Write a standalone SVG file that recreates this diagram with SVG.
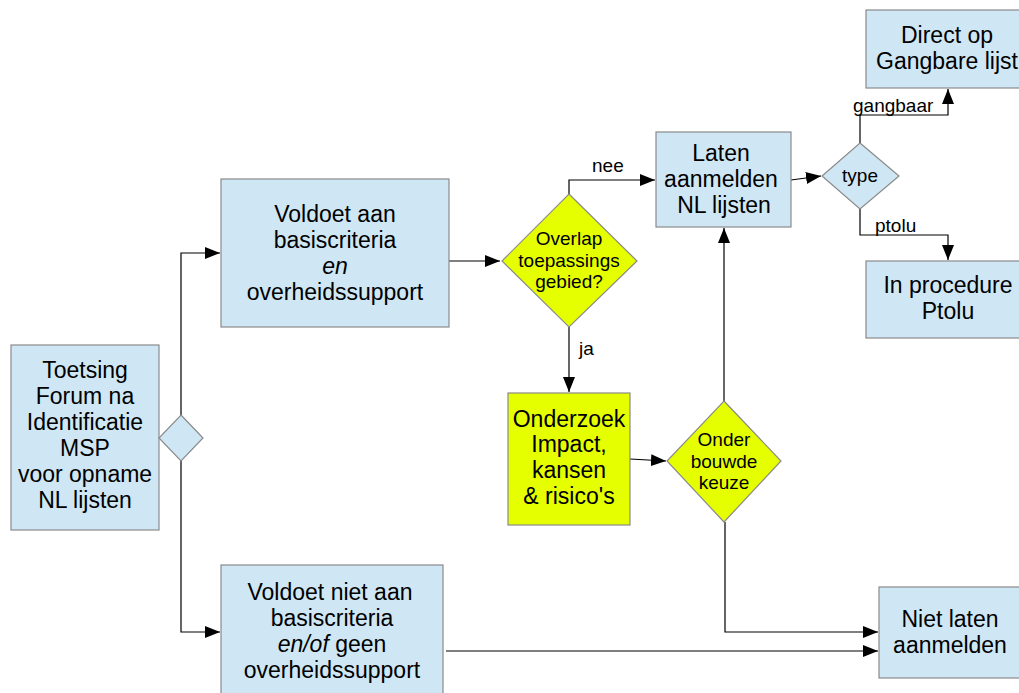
<svg xmlns="http://www.w3.org/2000/svg" width="1019" height="693" viewBox="0 0 1019 693">
<style>
.box{fill:#cfe7f5;stroke:#8a8a8a;stroke-width:1.2}
.yel{fill:#e6ff00;stroke:#8a8a8a;stroke-width:1.2}
.t{font-family:"Liberation Sans",Arial,sans-serif;font-size:23px;fill:#000;text-anchor:middle}
.s{font-family:"Liberation Sans",Arial,sans-serif;font-size:19px;fill:#000;text-anchor:middle}
.l{font-family:"Liberation Sans",Arial,sans-serif;font-size:19px;fill:#000}
.c{fill:none;stroke:#000;stroke-width:1.2}
</style>
<defs>
<marker id="a" markerUnits="userSpaceOnUse" markerWidth="16" markerHeight="13" refX="15" refY="6" orient="auto" viewBox="0 0 16 13">
<path d="M0,0 L15,6 L0,12 z" fill="#000"/>
</marker>
</defs>
<rect width="1019" height="693" fill="#fff"/>
<g id="connectors">
<path class="c" d="M181,415 V253 H220" marker-end="url(#a)"/>
<path class="c" d="M181,461 V632 H220" marker-end="url(#a)"/>
<path class="c" d="M449,261 H500" marker-end="url(#a)"/>
<path class="c" d="M569,194 V180 H655" marker-end="url(#a)"/>
<path class="c" d="M791,180 L821,176" marker-end="url(#a)"/>
<path class="c" d="M860,143 V115 H948 V89" marker-end="url(#a)"/>
<path class="c" d="M860,209 V235 H948 V260" marker-end="url(#a)"/>
<path class="c" d="M569,327 V392" marker-end="url(#a)"/>
<path class="c" d="M630,459 L666,461" marker-end="url(#a)"/>
<path class="c" d="M724,401 V228" marker-end="url(#a)"/>
<path class="c" d="M725,522 V632 H878" marker-end="url(#a)"/>
<path class="c" d="M446,651 H878" marker-end="url(#a)"/>
<text class="l" x="592" y="172">nee</text>
<text class="l" x="579" y="355">ja</text>
<text class="l" x="853" y="112">gangbaar</text>
<text class="l" x="875" y="232">ptolu</text>
</g>
<g id="toetsing">
<rect class="box" x="11" y="345" width="148" height="185"/>
<text class="t"><tspan x="85" y="378">Toetsing</tspan><tspan x="85" y="404">Forum na</tspan><tspan x="85" y="430">Identificatie</tspan><tspan x="85" y="456">MSP</tspan><tspan x="85" y="482">voor opname</tspan><tspan x="85" y="508">NL lijsten</tspan></text>
</g>
<g id="split">
<polygon class="box" points="181,415 203,438 181,461 159,438"/>
</g>
<g id="voldoet">
<rect class="box" x="221" y="179" width="228" height="148"/>
<text class="t"><tspan x="335" y="222">Voldoet aan</tspan><tspan x="335" y="248">basiscriteria</tspan><tspan x="335" y="274" font-style="italic">en</tspan><tspan x="335" y="300">overheidssupport</tspan></text>
</g>
<g id="overlap">
<polygon class="yel" points="569,194 637,261 569,327 502,261"/>
<text class="s"><tspan x="569" y="245">Overlap</tspan><tspan x="569" y="267">toepassings</tspan><tspan x="569" y="288">gebied?</tspan></text>
</g>
<g id="laten">
<rect class="box" x="656" y="132" width="135" height="95"/>
<text class="t"><tspan x="721" y="161">Laten</tspan><tspan x="721" y="187">aanmelden</tspan><tspan x="724" y="213">NL lijsten</tspan></text>
</g>
<g id="type">
<polygon class="box" points="860,143 899,176 860,209 822,176"/>
<text class="s" x="860" y="182">type</text>
</g>
<g id="direct">
<rect class="box" x="866" y="10" width="162" height="78"/>
<text class="t"><tspan x="947" y="43">Direct op</tspan><tspan x="947" y="69">Gangbare lijst</tspan></text>
</g>
<g id="ptolu">
<rect class="box" x="866" y="261" width="162" height="77"/>
<text class="t"><tspan x="948" y="293">In procedure</tspan><tspan x="948" y="319">Ptolu</tspan></text>
</g>
<g id="onderzoek">
<rect class="yel" x="508" y="393" width="122" height="132"/>
<text class="t"><tspan x="569" y="427">Onderzoek</tspan><tspan x="569" y="452">Impact,</tspan><tspan x="569" y="478">kansen</tspan><tspan x="569" y="504">&amp; risico's</tspan></text>
</g>
<g id="onder">
<polygon class="yel" points="724,401 781,461 724,522 667,461"/>
<text class="s"><tspan x="724" y="446">Onder</tspan><tspan x="724" y="468">bouwde</tspan><tspan x="724" y="489">keuze</tspan></text>
</g>
<g id="voldoetniet">
<rect class="box" x="221" y="565" width="222" height="140"/>
<text class="t"><tspan x="330" y="600">Voldoet niet aan</tspan><tspan x="332" y="626">basiscriteria</tspan><tspan x="332" y="652"><tspan font-style="italic">en/of</tspan> geen</tspan><tspan x="332" y="678">overheidssupport</tspan></text>
</g>
<g id="nietlaten">
<rect class="box" x="879" y="587" width="150" height="91"/>
<text class="t"><tspan x="950" y="627">Niet laten</tspan><tspan x="950" y="653">aanmelden</tspan></text>
</g>
</svg>
